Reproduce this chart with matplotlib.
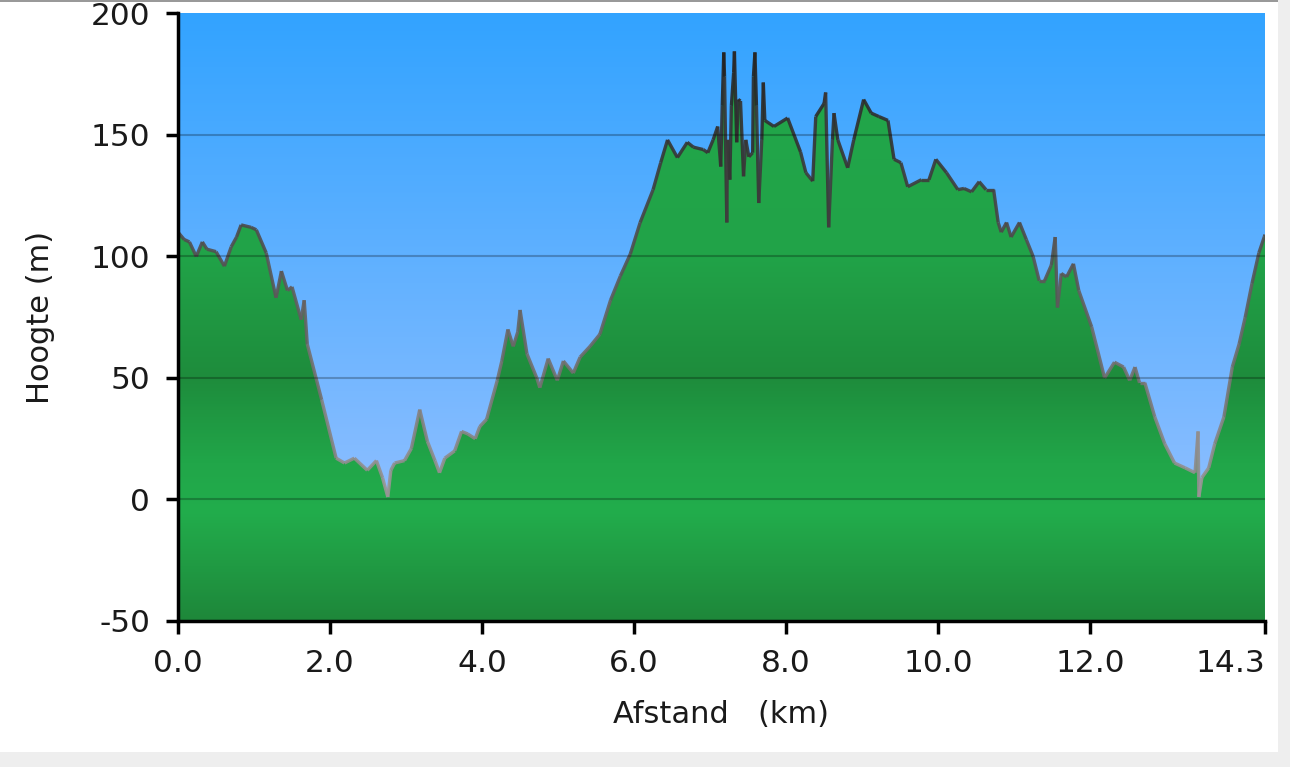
import numpy as np
import matplotlib
matplotlib.use('Agg')
import matplotlib.pyplot as plt
from matplotlib.collections import LineCollection
from matplotlib.patches import Polygon, Rectangle

plt.rcParams['axes.unicode_minus'] = False

# elevation profile
afstand = [0.00, 0.08, 0.15, 0.24, 0.32, 0.38, 0.50, 0.61, 0.70, 0.77, 0.83, 0.96, 1.03,
           1.16, 1.29, 1.36, 1.44, 1.50, 1.62, 1.66, 1.70, 1.89, 2.08, 2.19, 2.32, 2.49,
           2.61, 2.69, 2.76, 2.80, 2.85, 2.98, 3.07, 3.18, 3.28, 3.38, 3.44, 3.51, 3.64,
           3.73, 3.81, 3.91, 3.97, 4.06, 4.20, 4.26, 4.34, 4.41, 4.47, 4.50, 4.59, 4.72,
           4.76, 4.87, 4.99, 5.07, 5.20, 5.29, 5.42, 5.55, 5.69, 5.82, 5.95, 6.08, 6.25,
           6.35, 6.44, 6.57, 6.70, 6.78, 6.91, 6.97, 7.04, 7.10, 7.14, 7.16, 7.18, 7.19,
           7.22, 7.23, 7.26, 7.28, 7.31, 7.32, 7.35, 7.37, 7.40, 7.44, 7.47, 7.51, 7.56,
           7.57, 7.59, 7.61, 7.64, 7.68, 7.70, 7.72, 7.84, 8.02, 8.19, 8.26, 8.35, 8.39,
           8.50, 8.52, 8.56, 8.61, 8.63, 8.68, 8.81, 8.89, 9.02, 9.12, 9.22, 9.34, 9.42,
           9.51, 9.60, 9.78, 9.88, 9.97, 10.11, 10.26, 10.34, 10.44, 10.54, 10.63, 10.73,
           10.79, 10.83, 10.90, 10.96, 11.07, 11.16, 11.25, 11.33, 11.40, 11.49, 11.54,
           11.57, 11.62, 11.69, 11.78, 11.85, 12.02, 12.19, 12.32, 12.44, 12.52, 12.59,
           12.65, 12.72, 12.85, 12.98, 13.11, 13.25, 13.38, 13.42, 13.43, 13.47, 13.56,
           13.64, 13.76, 13.87, 13.96, 14.04, 14.13, 14.22, 14.29, 14.30]
hoogte = [110, 107, 106, 100, 106, 103, 102, 96, 104, 108, 113, 112, 111,
          101.5, 83, 94, 86, 87.5, 74, 82, 64, 41, 17, 15, 17, 12,
          16, 9, 1, 12, 15, 16, 21, 37, 24, 16, 11, 17, 20,
          28, 27, 25, 30, 33, 49, 57, 70, 63, 69, 78, 60, 50,
          46, 58, 49, 57, 52, 58.6, 63, 68, 82, 92, 101, 114, 127.5,
          138.6, 148, 140.7, 147, 145, 144, 142.7, 148, 153.5, 137, 162, 184, 174,
          114, 148, 131.6, 162, 175.7, 184.4, 147, 164.6, 164, 133, 148, 141, 142.7,
          174, 184, 162, 122, 148, 171.6, 156, 153.5, 157, 143, 134.5, 131, 157.6,
          163, 167.5, 112, 148, 159, 148, 136.5, 148, 164.6, 159, 157.6, 156, 140,
          138.6, 128.7, 131.6, 131.6, 140, 134.5, 127.5, 128, 126.6, 130.8, 127.5, 127.5,
          114, 110, 114, 108, 114, 107, 100, 90, 90, 96.5, 108,
          79, 93, 91.6, 97, 86, 71, 50, 56.5, 54.5, 49, 54.5,
          48, 48, 34, 23, 15, 13, 11, 28, 1, 9, 13,
          23, 34, 54.5, 64, 75, 89, 101.5, 108, 109]

xticks = [0, 2, 4, 6, 8, 10, 12, 14.3]
xticklabels = ['0.0', '2.0', '4.0', '6.0', '8.0', '10.0', '12.0', '14.3']
yticks = [-50, 0, 50, 100, 150, 200]

x = np.array(afstand)
y = np.array(hoogte)

fig = plt.figure(figsize=(12.9, 7.67), dpi=100)
ax = fig.add_axes([0.138, 0.1904, 0.8426, 0.7920])
ext = [0, 14.3, -50, 200]
grid = np.linspace(-50, 200, 600)

# sky gradient
sky_h = [-50, 0, 200]
sky_c = np.array([[140, 190, 255], [140, 190, 255], [50, 163, 255]]) / 255
sky = np.stack([np.interp(grid, sky_h, sky_c[:, i]) for i in range(3)], axis=-1)[:, None, :]
ax.imshow(sky, extent=ext, origin='lower', aspect='auto', zorder=0, interpolation='bilinear')

# green gradient clipped to the profile
gr_h = [-50, -5, 15, 50, 100, 200]
gr_c = np.array([[30, 135, 58], [34, 173, 76], [33, 166, 73], [30, 140, 60],
                 [33, 163, 72], [34, 168, 75]]) / 255
green = np.stack([np.interp(grid, gr_h, gr_c[:, i]) for i in range(3)], axis=-1)[:, None, :]
im = ax.imshow(green, extent=ext, origin='lower', aspect='auto', zorder=1, interpolation='bilinear')
poly = Polygon(np.column_stack([np.r_[x, x[-1], x[0]], np.r_[y, -50, -50]]),
               closed=True, facecolor='none', edgecolor='none', transform=ax.transData)
ax.add_patch(poly)
im.set_clip_path(poly)

# profile line, darker higher up
pts = np.column_stack([x, y]).reshape(-1, 1, 2)
segs = np.concatenate([pts[:-1], pts[1:]], axis=1)
mid = (y[:-1] + y[1:]) / 2
g = np.interp(mid, [0, 50, 100, 150, 190], [0.62, 0.46, 0.33, 0.2, 0.12])
cols = np.column_stack([g, g * 0.97, g * 0.97, np.full_like(g, 0.9)])
ax.add_collection(LineCollection(segs, colors=cols, linewidths=2.4, zorder=3))

for h in [0, 50, 100, 150]:
    ax.axhline(h, color='black', alpha=0.25, lw=1.5, zorder=4)

ax.set_xlim(0, 14.3)
ax.set_ylim(-50, 200)
ax.set_xticks(xticks)
ax.set_xticklabels(xticklabels)
ax.set_yticks(yticks)
for s in ['top', 'right']:
    ax.spines[s].set_visible(False)
for s in ['left', 'bottom']:
    ax.spines[s].set_linewidth(2.5)
    ax.spines[s].set_zorder(6)
ax.tick_params(direction='out', length=9, width=2.5, labelsize=22.5, pad=11, colors='black',
               labelcolor='#1a1a1a')
last = ax.get_xticklabels()[-1]
last.set_horizontalalignment('right')
ax.set_ylabel('Hoogte (m)', fontsize=22, color='#1a1a1a', labelpad=26)
ax.set_xlabel('Afstand   (km)', fontsize=22, color='#1a1a1a', labelpad=16)

# page border
fig.patches.append(Rectangle((0, 0), 1, 15 / 767, transform=fig.transFigure,
                             facecolor='#eeeeee', edgecolor='none', zorder=-1))
fig.patches.append(Rectangle((1278 / 1290, 0), 12 / 1290, 1, transform=fig.transFigure,
                             facecolor='#eeeeee', edgecolor='none', zorder=-1))
fig.patches.append(Rectangle((0, 1 - 2 / 767), 1278 / 1290, 2 / 767, transform=fig.transFigure,
                             facecolor='#999999', edgecolor='none', zorder=-1))

fig.savefig('out.png', dpi=100)
